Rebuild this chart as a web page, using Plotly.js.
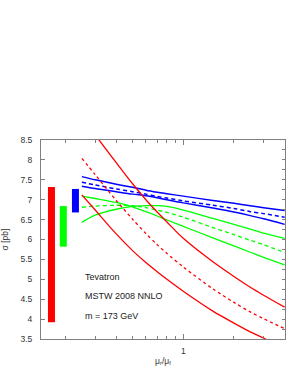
<!DOCTYPE html>
<html>
<head>
<meta charset="utf-8">
<script src="https://cdn.plot.ly/plotly-3.0.1.min.js"></script>
<style>html,body{margin:0;padding:0;background:#fff;}#chart{width:293px;height:380px;}</style>
</head>
<body>
<div id="chart"></div>
<script>
// scale ratio mu_r/mu_f
const mu = [0.25, 0.3, 0.4, 0.5, 0.6, 0.7, 0.8, 1, 1.5, 2, 2.5, 3, 4];
// red curves
const redUpper   = [9.10, 8.63, 7.93, 7.40, 7.00, 6.69, 6.44, 6.03, 5.44, 5.07, 4.80, 4.60, 4.30];
const redCentral = [8.04, 7.63, 6.98, 6.51, 6.15, 5.87, 5.65, 5.31, 4.76, 4.42, 4.18, 4.01, 3.76];
const redLower   = [7.12, 6.74, 6.14, 5.72, 5.42, 5.19, 5.00, 4.70, 4.20, 3.90, 3.68, 3.52, 3.27];
// green curves
const greenA       = [7.09, 7.03, 6.93, 6.82, 6.70, 6.59, 6.49, 6.33, 6.04, 5.84, 5.68, 5.55, 5.36];
const greenCentral = [6.81, 6.84, 6.86, 6.85, 6.80, 6.74, 6.68, 6.56, 6.30, 6.12, 5.98, 5.87, 5.67];
const greenB       = [6.43, 6.61, 6.76, 6.83, 6.85, 6.85, 6.83, 6.74, 6.53, 6.38, 6.26, 6.16, 6.03];
// blue curves
const blueUpper   = [7.58, 7.50, 7.39, 7.31, 7.24, 7.19, 7.15, 7.09, 6.98, 6.91, 6.85, 6.80, 6.73];
const blueCentral = [7.44, 7.37, 7.27, 7.20, 7.14, 7.08, 7.04, 6.97, 6.86, 6.78, 6.70, 6.65, 6.56];
const blueLower   = [7.34, 7.28, 7.20, 7.14, 7.10, 7.05, 7.00, 6.92, 6.79, 6.69, 6.60, 6.52, 6.38];
// uncertainty bars (position on x axis, low, high)
const barX    = [0.165, 0.194, 0.229];
const barLow  = [3.92, 5.82, 6.68];
const barHigh = [7.32, 6.84, 7.27];
const barColors = ['#ff0000', '#00ff00', '#0000ff'];
// axis ticks
const yTicks = [3.5, 4, 4.5, 5, 5.5, 6, 6.5, 7, 7.5, 8, 8.5];
const yTickText = ['3.5', '4', '4.5', '5', '5.5', '6', '6.5', '7', '7.5', '8', '8.5'];
const xMajor = [1];
const xMajorText = ['1'];
const xMinor = [0.2, 0.3, 0.4, 0.5, 0.6, 0.7, 0.8, 0.9, 2, 3, 4];

const RED = '#ff0000', GREEN = '#00ff00', BLUE = '#0000ff';
function curve(y, color, dash, w) {
  return {x: mu, y: y, type: 'scatter', mode: 'lines',
    line: {color: color, width: w || 1.3, dash: dash || 'solid', shape: 'spline', smoothing: 0.8},
    hoverinfo: 'skip', showlegend: false};
}
const traces = [];
for (let i = 0; i < barX.length; i++) {
  traces.push({x: [barX[i], barX[i]], y: [barLow[i], barHigh[i]], type: 'scatter', mode: 'lines',
    line: {color: barColors[i], width: 7}, showlegend: false, hoverinfo: 'skip'});
}
traces.push(curve(greenA, GREEN));
traces.push(curve(greenCentral, GREEN, '4px,3px'));
traces.push(curve(greenB, GREEN));
traces.push(curve(blueUpper, BLUE, null, 1.5));
traces.push(curve(blueCentral, BLUE, '4px,3px', 1.5));
traces.push(curve(blueLower, BLUE, null, 1.5));
traces.push(curve(redUpper, RED));
traces.push(curve(redCentral, RED, '3px,3px'));
traces.push(curve(redLower, RED));
// invisible trace for right-side minor tick axis
traces.push({x: [1], y: [6], yaxis: 'y2', type: 'scatter', mode: 'markers',
  marker: {opacity: 0}, showlegend: false, hoverinfo: 'skip'});

const FONT = 'Liberation Sans, Arial, sans-serif';
const AX = '#808080';
const layout = {
  width: 293, height: 380,
  margin: {l: 41, r: 8, t: 140, b: 41},
  paper_bgcolor: '#fff', plot_bgcolor: '#fff',
  font: {family: FONT, size: 8.5, color: '#333'},
  showlegend: false,
  xaxis: {
    type: 'log', range: [Math.log10(0.143), Math.log10(4.02)],
    showgrid: false, zeroline: false,
    showline: true, linecolor: AX, linewidth: 1, mirror: 'ticks',
    ticks: 'inside', ticklen: 5, tickcolor: AX, tickwidth: 1,
    tickmode: 'array', tickvals: xMajor, ticktext: xMajorText,
    minor: {tickmode: 'array', tickvals: xMinor, ticks: 'inside', ticklen: 3, tickcolor: AX, showgrid: false},
    ticklabelstandoff: 4,
    title: {text: 'μ<sub>r</sub>/μ<sub>f</sub>', font: {size: 8.5, family: FONT, color: '#333'}, standoff: 2}
  },
  yaxis: {
    range: [3.5, 8.5], showgrid: false, zeroline: false,
    showline: true, linecolor: AX, linewidth: 1, mirror: true,
    ticks: 'inside', ticklen: 4, tickcolor: AX, tickwidth: 1,
    tickmode: 'array', tickvals: yTicks, ticktext: yTickText,
    ticklabelstandoff: 6,
    title: {text: 'σ [pb]', font: {size: 8.5, family: FONT, color: '#333'}, standoff: 11}
  },
  yaxis2: {
    overlaying: 'y', side: 'right', range: [3.5, 8.5],
    showgrid: false, zeroline: false, showline: false, showticklabels: false,
    ticks: 'inside', ticklen: 3, tickcolor: AX, dtick: 0.25, tick0: 3.5
  },
  annotations: [
    {xref: 'paper', yref: 'y', x: 0.172, y: 5.07, xanchor: 'left', yanchor: 'middle', showarrow: false,
     text: 'Tevatron', font: {size: 9, family: FONT, color: '#222'}},
    {xref: 'paper', yref: 'y', x: 0.172, y: 4.57, xanchor: 'left', yanchor: 'middle', showarrow: false,
     text: 'MSTW 2008 NNLO', font: {size: 9, family: FONT, color: '#222'}},
    {xref: 'paper', yref: 'y', x: 0.172, y: 4.07, xanchor: 'left', yanchor: 'middle', showarrow: false,
     text: 'm = 173 GeV', font: {size: 9, family: FONT, color: '#222'}}
  ]
};
Plotly.newPlot('chart', traces, layout, {staticPlot: true, displayModeBar: false});
</script>
</body>
</html>
